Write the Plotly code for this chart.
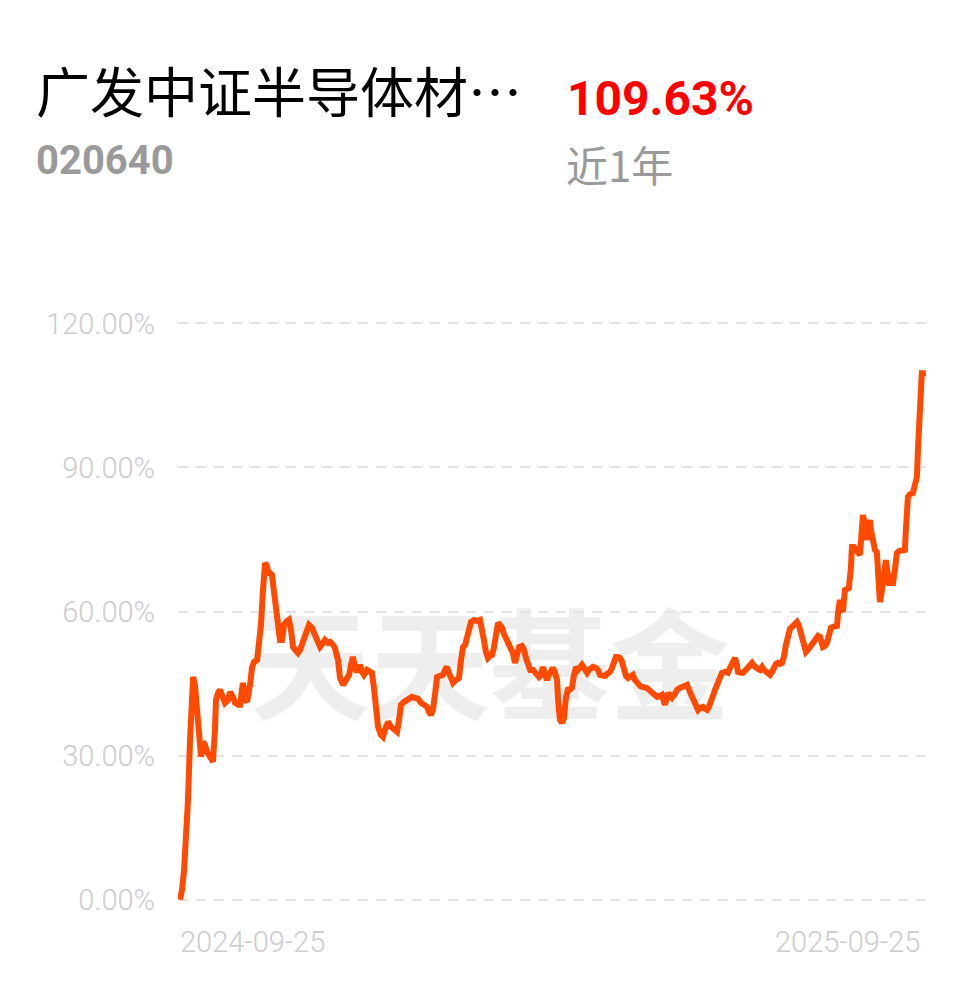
import pandas as pd
import plotly.graph_objects as go

# ---- data ----
fund_name = "广发中证半导体材…"
fund_code = "020640"
period_return = "109.63%"
period_label = "近1年"
start_date = "2024-09-25"
end_date = "2025-09-25"
y_ticks = [0, 30, 60, 90, 120]
y_tick_labels = ["0.00%", "30.00%", "60.00%", "90.00%", "120.00%"]

# days after start date
days = [0, 1.0, 2.0, 2.9, 3.9, 4.9, 5.6, 6.4, 7.3, 8.3, 9.3, 10.3, 11.3, 12.2, 13.2, 14.7, 16.1, 17.1, 17.6, 18.6,
        19.6, 21.0, 22.0, 23.5, 24.5, 25.9, 26.9, 28.4, 29.4, 30.3, 30.8, 31.8, 32.8, 33.8, 34.3, 35.2, 36.2, 37.7,
        38.7, 39.6, 40.6, 41.6, 42.6, 43.1, 44.0, 45.0, 46.0, 47.0, 48.0, 48.9, 49.9, 50.9, 51.9, 53.3, 54.3, 55.3,
        56.3, 57.7, 58.7, 60.2, 61.7, 63.1, 64.6, 66.1, 67.0, 68.5, 70.0, 70.9, 72.4, 73.4, 74.9, 75.8, 77.3, 78.3,
        79.8, 81.2, 82.7, 83.7, 84.6, 85.6, 86.6, 87.6, 88.1, 89.1, 90.0, 91.5, 93.0, 93.9, 94.9, 95.9, 96.9, 98.3,
        99.3, 100.3, 101.8, 103.2, 104.7, 106.2, 107.2, 108.1, 109.6, 111.1, 112.5, 113.5, 115.0, 116.5, 117.9,
        119.4, 120.9, 121.8, 122.8, 123.8, 124.8, 125.8, 127.2, 128.7, 129.7, 130.6, 131.6, 132.6, 133.6, 135.0,
        136.5, 137.5, 138.5, 139.5, 140.4, 141.4, 142.4, 143.9, 145.3, 146.8, 147.8, 148.7, 149.7, 150.7, 151.7,
        152.7, 153.6, 154.6, 155.6, 156.6, 157.6, 158.5, 159.5, 160.5, 162.0, 162.9, 163.9, 164.9, 165.9, 167.3,
        168.3, 169.3, 170.3, 171.3, 172.7, 173.7, 174.7, 175.7, 176.6, 177.6, 178.6, 179.6, 180.5, 181.5, 182.5,
        183.5, 184.5, 185.0, 185.9, 186.9, 187.9, 188.9, 189.8, 190.8, 191.8, 192.8, 193.8, 194.7, 195.7, 196.7,
        197.7, 199.2, 200.1, 201.1, 202.1, 203.5, 204.5, 205.5, 207.0, 208.0, 208.9, 210.4, 211.4, 212.4, 213.3,
        214.3, 215.3, 216.3, 217.2, 218.2, 219.2, 220.7, 221.6, 222.6, 223.6, 225.1, 226.1, 227.5, 228.5, 230.0,
        230.9, 232.4, 233.4, 234.9, 235.8, 236.8, 237.3, 238.3, 238.8, 239.8, 240.7, 242.2, 243.2, 244.6, 245.6,
        247.1, 248.1, 249.5, 250.5, 251.5, 252.5, 253.5, 254.4, 255.9, 256.9, 257.9, 258.8, 259.8, 260.8, 261.8,
        263.2, 264.2, 265.2, 266.7, 268.1, 269.1, 270.1, 271.6, 272.5, 273.0, 274.5, 275.5, 276.9, 277.9, 278.9,
        279.9, 280.9, 281.8, 282.8, 283.8, 284.8, 285.7, 287.2, 288.7, 289.7, 290.6, 291.6, 292.6, 293.6, 294.6,
        295.5, 296.5, 297.5, 298.5, 299.5, 300.9, 301.9, 302.9, 303.9, 304.3, 305.3, 306.3, 307.3, 308.3, 309.2,
        310.2, 311.2, 312.2, 313.2, 314.1, 314.6, 315.6, 316.6, 317.6, 318.5, 319.5, 320.5, 321.5, 322.0, 322.9,
        323.9, 324.4, 324.9, 325.4, 326.4, 327.3, 328.3, 328.8, 329.8, 330.8, 331.7, 332.7, 333.7, 334.2, 335.2,
        336.1, 336.6, 337.6, 338.1, 339.1, 340.1, 341.0, 341.5, 342.5, 343.5, 344.0, 345.0, 345.4, 346.4, 346.9,
        347.9, 348.9, 349.8, 350.8, 351.8, 353.3, 354.7, 355.2, 356.2, 357.2, 358.6, 359.6, 360.6, 361.1, 362.1,
        363.0, 364.0, 365.0]

returns = [0.00, 2.08, 6.24, 12.48, 20.80, 33.28, 44.72, 46.38, 44.72, 40.56, 34.32, 29.74, 32.86, 32.24, 30.78,
           29.74, 28.70, 35.36, 41.60, 43.05, 43.68, 42.01, 40.97, 41.60, 43.26, 42.22, 40.97, 40.56, 40.56, 43.68,
           45.13, 41.60, 41.18, 43.68, 44.72, 48.25, 49.50, 49.92, 53.04, 57.20, 64.48, 70.09, 69.47, 68.01, 68.01,
           67.60, 64.06, 59.90, 55.53, 54.08, 54.08, 57.20, 57.82, 58.24, 56.16, 52.62, 52.00, 51.37, 52.00, 54.08,
           55.12, 57.20, 56.58, 54.70, 54.08, 52.62, 53.45, 54.08, 53.45, 53.66, 53.04, 52.41, 49.92, 46.17, 44.72,
           45.76, 46.80, 48.88, 50.54, 48.25, 47.42, 48.25, 48.88, 47.42, 46.80, 47.84, 47.42, 47.22, 44.09, 39.52,
           35.98, 34.32, 33.90, 35.36, 37.02, 35.98, 35.57, 34.94, 37.44, 40.56, 41.18, 41.60, 42.01, 42.22, 42.01,
           41.81, 40.97, 40.56, 40.14, 39.10, 38.48, 39.52, 43.68, 46.38, 46.59, 46.80, 47.84, 48.46, 47.22, 45.76,
           45.13, 45.76, 46.17, 49.92, 52.62, 53.04, 54.49, 56.78, 57.82, 58.24, 58.03, 58.24, 56.58, 54.08, 51.58,
           50.33, 50.75, 50.96, 52.41, 55.53, 57.61, 57.20, 56.58, 55.33, 54.49, 53.66, 52.41, 51.37, 49.29, 50.96,
           52.62, 52.83, 52.00, 50.33, 48.88, 47.84, 47.84, 47.42, 47.22, 46.38, 46.80, 48.46, 46.80, 45.76, 46.80,
           47.42, 48.25, 47.22, 45.76, 41.60, 37.44, 36.81, 37.86, 42.22, 43.68, 43.68, 44.09, 46.80, 48.46, 47.84,
           48.25, 48.88, 48.25, 47.22, 47.84, 48.25, 48.46, 48.25, 47.84, 46.80, 46.80, 46.59, 47.01, 47.42, 48.25,
           49.92, 50.54, 50.54, 50.33, 49.50, 47.84, 46.59, 46.17, 46.59, 46.80, 45.76, 45.13, 44.51, 44.30, 44.09,
           44.09, 43.47, 43.05, 42.43, 42.22, 42.43, 42.64, 41.18, 40.56, 42.22, 43.05, 42.43, 42.01, 42.85, 43.68,
           44.09, 44.30, 44.51, 44.72, 43.26, 42.22, 40.97, 40.14, 39.52, 39.93, 40.14, 39.73, 39.52, 40.14, 40.97,
           42.43, 43.68, 45.34, 46.38, 47.22, 47.42, 47.22, 48.25, 49.29, 50.33, 48.88, 47.42, 47.22, 47.22, 47.84,
           48.25, 48.88, 49.29, 48.67, 48.25, 48.04, 47.84, 48.46, 47.84, 47.22, 46.80, 47.42, 48.25, 49.09, 49.29,
           49.09, 49.29, 50.54, 53.04, 55.53, 56.37, 56.78, 57.41, 57.82, 56.99, 55.53, 54.08, 52.41, 51.58, 52.00,
           52.62, 53.45, 54.08, 54.70, 54.91, 54.70, 53.66, 52.62, 52.83, 53.45, 55.12, 56.58, 56.78, 56.78, 56.99,
           59.69, 62.40, 60.32, 59.90, 62.40, 64.48, 64.68, 64.89, 69.05, 73.42, 73.42, 73.00, 72.38, 71.76, 76.96,
           80.08, 78.00, 74.88, 76.96, 79.04, 76.96, 74.25, 72.80, 72.38, 68.64, 61.98, 64.48, 66.56, 69.68, 70.72,
           67.60, 65.93, 65.93, 65.93, 68.64, 72.17, 72.59, 72.80, 72.80, 76.96, 83.82, 84.44, 84.65, 86.32, 87.98,
           93.60, 101.92, 109.61, 109.61, 109.63]

# ---- build ----
t0 = pd.Timestamp(start_date)
dates = t0 + pd.to_timedelta(days, unit="D")

NUM = "Roboto, Liberation Sans, sans-serif"
CJK = "Noto Sans CJK SC, sans-serif"
LABEL_GREY = "#cdcdcd"

fig = go.Figure()
fig.add_trace(go.Scatter(
    x=dates, y=returns, mode="lines",
    line=dict(color="#ff4a00", width=6, shape="linear"),
    hoverinfo="skip", showlegend=False,
))

fig.update_layout(
    width=978, height=986,
    paper_bgcolor="white", plot_bgcolor="white",
    margin=dict(l=178, r=48, t=309, b=72),
    showlegend=False,
    xaxis=dict(
        range=[t0 - pd.Timedelta(days=1), t0 + pd.Timedelta(days=367)],
        showgrid=False, zeroline=False, showline=False, showticklabels=False, ticks="",
    ),
    yaxis=dict(
        range=[-3, 123],
        tickvals=y_ticks, ticktext=y_tick_labels,
        showgrid=True, gridcolor="#e3e3e3", gridwidth=2, griddash="10px,8px",
        zeroline=False, showline=False, ticks="",
        tickfont=dict(family=NUM, size=29, color=LABEL_GREY, weight=300),
        ticklabelstandoff=22,
    ),
)

# watermark below the line
fig.add_shape(
    type="rect", xref="paper", yref="paper", x0=0.05, x1=0.78, y0=0.275, y1=0.505,
    layer="below", line=dict(width=0), fillcolor="rgba(0,0,0,0)",
    label=dict(text="天天基金", textposition="middle center",
               font=dict(family=CJK, size=120, color="#eeeeee", weight="bold")),
)

# date labels
fig.add_annotation(x=t0, xref="x", y=0, yref="paper", yanchor="top", xanchor="left",
                   yshift=-9, xshift=-2, text=start_date, showarrow=False,
                   font=dict(family=NUM, size=29, color=LABEL_GREY, weight=300))
fig.add_annotation(x=pd.Timestamp(end_date), xref="x", y=0, yref="paper", yanchor="top", xanchor="right",
                   yshift=-9, xshift=-4, text=end_date, showarrow=False,
                   font=dict(family=NUM, size=29, color=LABEL_GREY, weight=300))

# header texts
fig.add_annotation(x=-0.192, xref="paper", y=1.3633, yref="paper", xanchor="left", yanchor="middle",
                   text=fund_name, showarrow=False, font=dict(family=CJK, size=54, color="#000000"))
fig.add_annotation(x=-0.192, xref="paper", y=1.2453, yref="paper", xanchor="left", yanchor="middle",
                   text=fund_code, showarrow=False,
                   font=dict(family=NUM, size=40, color="#9a9a9a", weight="bold"))
fig.add_annotation(x=0.515, xref="paper", y=1.3477, yref="paper", xanchor="left", yanchor="middle",
                   text=period_return, showarrow=False,
                   font=dict(family=NUM, size=48, color="#ff0000", weight="bold"))
fig.add_annotation(x=0.513, xref="paper", y=1.2400, yref="paper", xanchor="left", yanchor="middle",
                   text=period_label, showarrow=False, font=dict(family=CJK, size=42, color="#9a9a9a"))

fig.write_html("out.html", config={"displayModeBar": False},
               post_script="document.body.style.margin='0px';")
